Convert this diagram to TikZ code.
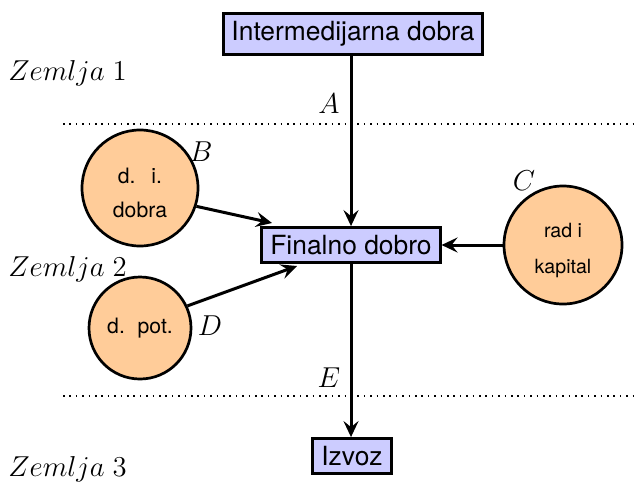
\documentclass[tikz,border=0pt]{standalone}
\usepackage{fontspec}
\setmainfont{TeX Gyre Heros}
\usetikzlibrary{arrows.meta}
\definecolor{boxfill}{RGB}{204,204,255}
\definecolor{circfill}{RGB}{255,204,153}
\begin{document}
\begin{tikzpicture}[x=0.5pt,y=-0.5pt,
  font=\fontsize{13.2}{16}\selectfont,
  goodbox/.style={draw=black,line width=1.5pt,fill=boxfill,inner xsep=4.2pt,inner ysep=3.8pt},
  srcircle/.style={circle,draw=black,line width=1.35pt,fill=circfill,inner sep=0pt,align=center},
  flow/.style={line width=1.5pt,-{Stealth[length=8pt,width=7.5pt,inset=3pt]}},
  border/.style={line width=0.8pt,dash pattern=on 0.8pt off 2.4pt},
  lbl/.style={inner sep=0pt,font=\fontsize{14}{17}\selectfont}
]
\useasboundingbox (0,0) rectangle (635,483);
% boxes
\node[goodbox] (inter) at (353,34) {Intermedijarna dobra};
\node[goodbox] (final) at (351,245) {Finalno dobro};
\node[goodbox] (izvoz) at (352,456) {Izvoz};
% circles
\node[srcircle,minimum size=58pt,font=\fontsize{10.6}{17}\selectfont] (b) at (140,188) {\rule{0pt}{13pt}d.\hspace{0.75em}i.\\dobra};
\node[srcircle,minimum size=51pt,font=\fontsize{10.6}{17}\selectfont] (d) at (140,328) {d.\hspace{0.6em}pot.};
\node[srcircle,minimum size=59pt,font=\fontsize{9.8}{18}\selectfont] (c) at (563,245) {\rule{0pt}{13pt}rad i\\kapital};
% dotted borders
\coordinate (l1a) at (63,124);
\coordinate (l1b) at (635,124);
\coordinate (l2a) at (63,396);
\coordinate (l2b) at (635,396);
\draw[border] (l1a) -- (l1b);
\draw[border] (l2a) -- (l2b);
% labels
\node[lbl,anchor=base west] (z1) at (8,80) {$Zemlja\;1$};
\node[lbl,anchor=base west] (z2) at (8,276) {$Zemlja\;2$};
\node[lbl,anchor=base west] (z3) at (8,476) {$Zemlja\;3$};
\node[lbl] (la) at (329,104) {$A$};
\node[lbl] (le) at (329,378) {$E$};
\node[lbl] (lb) at (201,152) {$B$};
\node[lbl] (lc) at (524,181) {$C$};
\node[lbl] (ld) at (210,326) {$D$};
% connectors
\coordinate (bend) at (272,223);
\coordinate (dend) at (297,266);
\draw[flow] (inter.south -| final.north) -- (final.north);
\draw[flow] (final.south) -- (final.south |- izvoz.north);
\draw[flow] (c) -- (final.east);
\draw[flow] (b.-18) -- (bend);
\draw[flow] (d.25) -- (dend);
\end{tikzpicture}
\end{document}
